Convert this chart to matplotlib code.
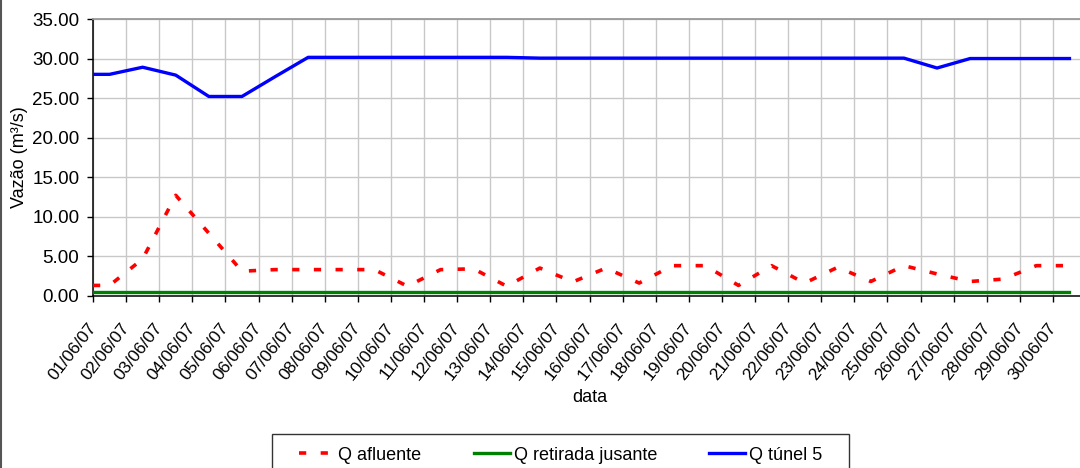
import numpy as np
import matplotlib
matplotlib.use('Agg')
import matplotlib.pyplot as plt
from matplotlib.ticker import FormatStrFormatter
from matplotlib.lines import Line2D
from matplotlib.patches import Rectangle

plt.rcParams['font.family'] = ['Liberation Sans', 'DejaVu Sans']
plt.rcParams['font.size'] = 13

# daily values, June 2007
dias = [f'{d:02d}/06/07' for d in range(1, 31)]
q_afluente = [1.3, 4.65, 12.7, 7.9, 3.1, 3.3, 3.3, 3.3, 3.3, 1.2,
              3.3, 3.4, 1.2, 3.5, 1.75, 3.5, 1.6, 3.8, 3.8, 1.3,
              3.8, 1.6, 3.6, 1.8, 3.8, 2.75, 1.8, 2.1, 3.8, 3.8]
q_retirada = [0.5] * 30
q_tunel5 = [28.0, 28.9, 27.9, 25.2, 25.2, 27.7, 30.15, 30.15, 30.15, 30.15,
            30.15, 30.15, 30.15, 30.05, 30.05, 30.05, 30.05, 30.05, 30.05, 30.05,
            30.05, 30.05, 30.05, 30.05, 30.05, 28.8, 30.0, 30.0, 30.0, 30.0]

# points sit in the middle of each day, line starts at the axis
x = np.r_[0, np.arange(len(dias)) + 0.5]


def serie(v):
    return np.r_[v[0], v]


fig = plt.figure(figsize=(10.8, 4.68), dpi=100)
ax = fig.add_axes([93 / 1080, 1 - 295.7 / 468, 993 / 1080, 276.7 / 468])

l1, = ax.plot(x, serie(q_afluente), color='#ff0000', lw=2.6, zorder=4)
l1.set_dashes((2.0, 4.0))
l2, = ax.plot(x, serie(q_retirada), color='#008000', lw=2.4, zorder=3)
l3, = ax.plot(x, serie(q_tunel5), color='#0000ff', lw=2.4, zorder=3)

ax.set_xlim(0, 30)
ax.set_ylim(0, 35)
ax.set_yticks(np.arange(0, 36, 5))
ax.yaxis.set_major_formatter(FormatStrFormatter('%.2f'))
ax.set_xticks(np.arange(len(dias)))
ax.set_xticklabels(dias, rotation=52, ha='right', va='center',
                   rotation_mode='anchor', fontsize=12.5)

ax.grid(True, color='#c8c8c8', lw=1.0)
ax.set_axisbelow(True)
ax.tick_params(axis='both', direction='out', length=4.3, width=1.0, color='black')
ax.tick_params(axis='x', pad=16.5)
ax.tick_params(axis='y', pad=5.5, labelsize=13.5)

for s in ['left', 'bottom']:
    ax.spines[s].set_color('black')
    ax.spines[s].set_linewidth(1.1)
ax.spines['top'].set_color('#999999')
ax.spines['top'].set_linewidth(1.3)
ax.spines['right'].set_visible(False)

ax.set_ylabel('Vazão (m³/s)')
ax.yaxis.set_label_coords((20 - 93) / 993, 0.5)
ax.yaxis.label.set_va('center')
ax.set_xlabel('data')
ax.xaxis.set_label_coords(0.5, (295.7 - 398) / 276.7)
ax.xaxis.label.set_va('center')

leg = fig.legend([l1, l2, l3], ['Q afluente', 'Q retirada jusante', 'Q túnel 5'],
                 loc='upper center', bbox_to_anchor=(560.5 / 1080, 1 - 434 / 468),
                 ncol=3, frameon=False, handlelength=2.0, handletextpad=0.2,
                 columnspacing=2.9, borderpad=0.7, borderaxespad=0)

# legend box, wider than the entries, cut by the bottom of the picture
fig.add_artist(Rectangle((272 / 1080, -0.05), (849 - 272) / 1080, 0.05 + 34 / 468,
                         transform=fig.transFigure, fill=False,
                         edgecolor='#333333', lw=1.0))

# chart border, only the left edge is in the picture
fig.add_artist(Line2D([0.001, 0.001], [0, 1], color='#555555', lw=1.5,
                      transform=fig.transFigure))

fig.savefig('out.png', dpi=100)
